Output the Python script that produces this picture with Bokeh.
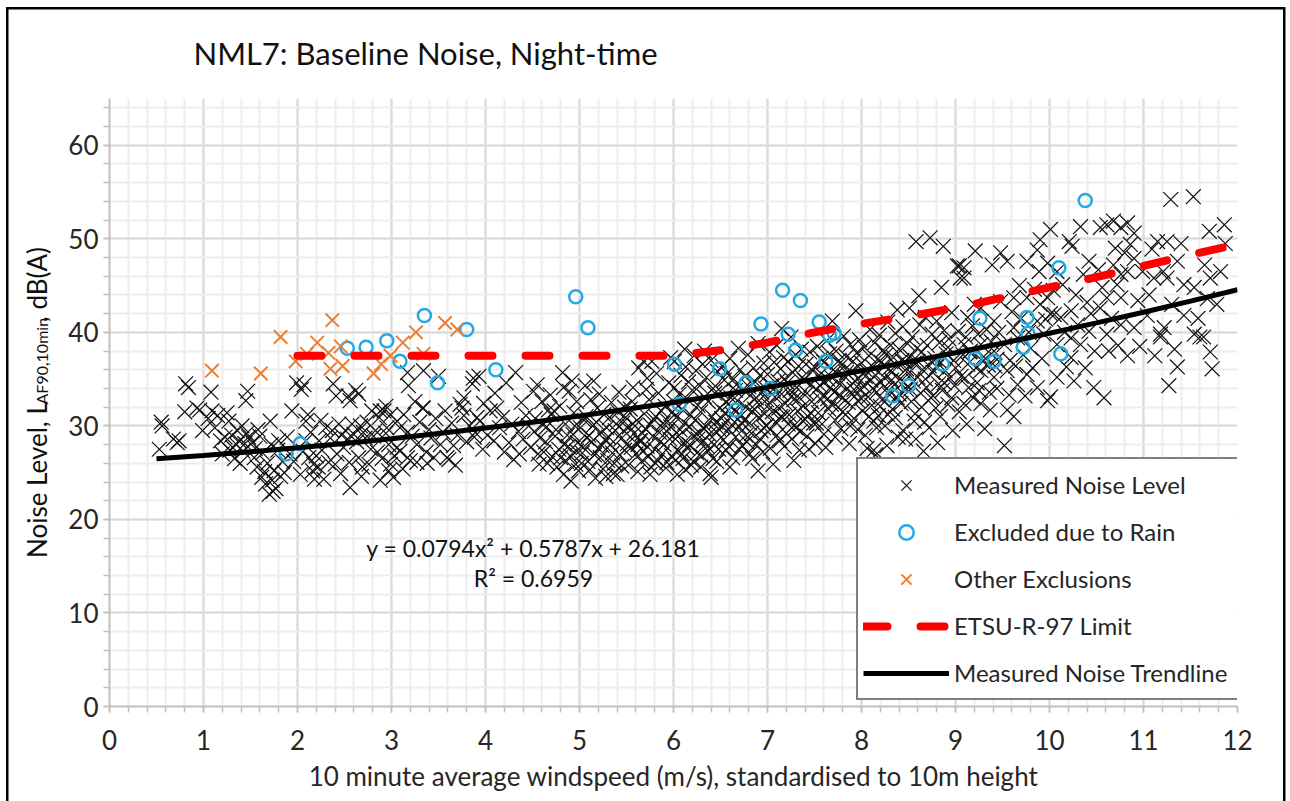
import math
from bokeh.plotting import figure
from bokeh.models import SingleIntervalTicker, Label, Title
from bokeh.embed import file_html
from bokeh.resources import INLINE

FONT = "Lato"
TXT = "#262626"

# ---------------- data ----------------
measured_points = [
    # 0.5 - 1.0
    (0.53, 27.5), (0.56, 30.0), (0.55, 30.4), (0.72, 28.2), (0.74, 28.4), (0.80, 31.5), (0.84, 34.1),
    (0.81, 34.5), (0.93, 31.9), (0.96, 31.7), (0.99, 29.5), (0.68, 28.6),
    # 1.0 - 1.5
    (1.05, 30.8), (1.08, 33.6), (1.09, 31.6), (1.12, 29.8), (1.15, 31.1), (1.18, 28.4), (1.20, 27.0),
    (1.23, 28.8), (1.25, 31.4), (1.27, 30.5), (1.30, 29.0), (1.31, 27.7), (1.33, 26.5), (1.36, 29.5),
    (1.38, 28.4), (1.39, 26.0), (1.41, 30.0), (1.42, 27.3), (1.44, 28.1), (1.45, 32.7), (1.46, 29.2),
    (1.47, 33.7), (1.48, 28.8), (1.35, 28.0), (1.28, 27.4),
    # 1.5 - 2.0
    (1.52, 28.2), (1.54, 26.6), (1.55, 27.6), (1.57, 25.6), (1.58, 29.6), (1.60, 28.9), (1.62, 24.5),
    (1.63, 27.1), (1.65, 25.1), (1.66, 23.8), (1.68, 26.0), (1.70, 22.7), (1.71, 30.5), (1.72, 28.0),
    (1.73, 24.2), (1.75, 25.2), (1.77, 23.3), (1.79, 27.4), (1.80, 28.4), (1.84, 26.2), (1.86, 25.0),
    (1.89, 28.8), (1.92, 27.0), (1.94, 31.6), (1.96, 26.2), (1.99, 34.6), (1.74, 23.0), (1.82, 24.6),
    # 2.0 - 2.5
    (2.03, 24.8), (2.04, 33.9), (2.06, 27.3), (2.07, 34.4), (2.09, 30.5), (2.09, 28.4), (2.12, 26.6),
    (2.14, 29.3), (2.16, 25.2), (2.17, 25.9), (2.18, 24.3), (2.20, 26.8), (2.23, 28.4), (2.25, 30.6),
    (2.26, 27.4), (2.28, 24.3), (2.30, 29.8), (2.33, 26.1), (2.35, 28.7), (2.37, 29.5), (2.38, 34.5),
    (2.40, 25.9), (2.41, 33.2), (2.42, 27.0), (2.44, 30.2), (2.46, 24.9), (2.47, 29.0), (2.49, 27.7),
    (2.11, 31.2), (2.22, 25.6),
    # 2.5 - 3.0
    (2.51, 29.5), (2.53, 28.6), (2.54, 33.2), (2.55, 26.1), (2.56, 23.4), (2.56, 32.7), (2.58, 30.2),
    (2.60, 29.1), (2.62, 33.8), (2.63, 28.3), (2.65, 33.4), (2.65, 26.6), (2.67, 30.0), (2.68, 24.6),
    (2.69, 25.6), (2.70, 29.3), (2.72, 28.7), (2.74, 30.4), (2.76, 25.9), (2.78, 27.5), (2.79, 31.6),
    (2.81, 28.9), (2.83, 29.5), (2.85, 27.2), (2.87, 30.9), (2.88, 24.2), (2.88, 31.6), (2.90, 26.5),
    (2.92, 31.6), (2.94, 29.2), (2.94, 32.1), (2.95, 29.8), (2.97, 25.2), (2.97, 28.0), (2.99, 31.2),
    (2.99, 25.9),
    # 3.0 - 3.5
    (3.02, 24.5), (3.06, 30.5), (3.06, 27.7), (3.09, 27.3), (3.09, 29.8), (3.13, 31.2), (3.17, 35.7),
    (3.17, 29.3), (3.17, 26.6), (3.18, 34.3), (3.20, 26.3), (3.22, 28.9), (3.27, 26.1), (3.27, 28.0),
    (3.30, 30.4), (3.33, 31.9), (3.34, 35.9), (3.34, 31.9), (3.37, 27.2), (3.40, 29.6), (3.42, 28.7),
    (3.45, 26.6), (3.47, 30.8), (3.50, 35.3), (3.03, 26.8), (3.12, 25.4), (3.25, 32.6), (3.38, 26.0),
    # 3.5 - 4.0
    (3.52, 28.0), (3.55, 29.3), (3.59, 26.6), (3.61, 26.4), (3.64, 30.3), (3.66, 27.9), (3.70, 29.0),
    (3.73, 32.3), (3.75, 31.9), (3.77, 31.1), (3.77, 33.0), (3.80, 28.3), (3.83, 30.0), (3.86, 34.5),
    (3.87, 35.1), (3.88, 28.8), (3.89, 29.3), (3.91, 30.9), (3.93, 35.3), (3.94, 30.5), (3.97, 27.5),
    (3.57, 31.6), (3.68, 25.8), (3.98, 32.4),
    # 4.0 - 4.5
    (4.02, 29.0), (4.05, 31.6), (4.09, 28.4), (4.12, 31.9), (4.15, 29.8), (4.18, 30.9), (4.20, 27.2),
    (4.25, 28.2), (4.28, 30.2), (4.32, 35.7), (4.35, 29.4), (4.38, 32.5), (4.40, 28.6), (4.43, 31.1),
    (4.46, 30.0), (4.48, 27.7), (4.10, 33.5), (4.22, 34.6), (4.30, 26.4), (4.36, 27.0),
    # 4.5 - 5.0
    (4.51, 33.7), (4.53, 30.8), (4.55, 34.4), (4.57, 25.9), (4.58, 28.7), (4.60, 32.6), (4.62, 27.2),
    (4.65, 29.9), (4.69, 33.3), (4.70, 31.2), (4.73, 31.6), (4.74, 28.9), (4.76, 25.6), (4.78, 27.5),
    (4.80, 26.6), (4.82, 35.7), (4.83, 34.1), (4.83, 24.8), (4.85, 30.2), (4.87, 29.0), (4.89, 33.7),
    (4.90, 26.8), (4.91, 24.1), (4.92, 34.8), (4.94, 31.4), (4.96, 25.9), (4.97, 32.6), (4.98, 28.2),
    (4.99, 25.2), (4.66, 26.0), (4.88, 27.8), (4.95, 30.0),
    (4.52, 29.4), (4.56, 27.0), (4.61, 30.1), (4.64, 28.3), (4.67, 31.7), (4.71, 26.7), (4.75, 29.6),
    (4.79, 32.1), (4.84, 28.0), (4.86, 26.2), (4.93, 29.1), (4.97, 27.3),
    # 5.0 - 5.5
    (5.01, 29.8), (5.03, 27.1), (5.04, 27.7), (5.06, 34.3), (5.07, 31.0), (5.09, 26.2), (5.10, 29.0),
    (5.12, 32.8), (5.13, 28.3), (5.15, 34.8), (5.16, 26.9), (5.18, 30.4), (5.19, 31.9), (5.20, 27.6),
    (5.22, 26.6), (5.23, 29.3), (5.25, 25.4), (5.26, 31.2), (5.27, 28.5), (5.29, 29.8), (5.30, 26.3),
    (5.32, 30.9), (5.33, 28.0), (5.35, 27.1), (5.36, 24.9), (5.38, 29.5), (5.40, 24.8), (5.41, 31.5),
    (5.43, 26.9), (5.44, 28.6), (5.46, 30.3), (5.47, 29.5), (5.48, 27.4), (5.49, 30.9), (5.11, 25.3),
    (5.21, 33.4), (5.34, 32.5), (5.05, 30.6), (5.28, 24.6), (5.42, 33.6),
    (5.02, 26.0), (5.08, 28.7), (5.14, 30.0), (5.17, 24.4), (5.24, 27.9), (5.31, 28.8), (5.37, 26.0),
    (5.39, 30.2), (5.45, 25.7), (5.48, 32.0),
    # 5.5 - 6.0
    (5.51, 28.1), (5.52, 25.8), (5.54, 31.8), (5.56, 32.6), (5.57, 34.1), (5.58, 29.2), (5.60, 27.0),
    (5.61, 30.6), (5.63, 36.2), (5.64, 28.4), (5.65, 28.4), (5.66, 26.2), (5.68, 36.9), (5.68, 27.3),
    (5.69, 31.3), (5.70, 29.7), (5.72, 35.1), (5.73, 26.7), (5.74, 32.8), (5.75, 30.1), (5.76, 25.6),
    (5.77, 36.9), (5.78, 28.9), (5.80, 27.5), (5.81, 31.0), (5.83, 26.3), (5.84, 33.5), (5.85, 29.3),
    (5.87, 31.6), (5.88, 27.0), (5.90, 28.0), (5.91, 32.1), (5.92, 25.5), (5.94, 30.5), (5.95, 34.6),
    (5.96, 28.6), (5.98, 26.8), (5.99, 31.5), (5.53, 29.9), (5.62, 25.1), (5.71, 33.9), (5.82, 35.6),
    (5.93, 29.4), (5.97, 37.3),
    (5.55, 27.7), (5.59, 30.0), (5.62, 28.0), (5.67, 29.2), (5.72, 27.8), (5.75, 24.8), (5.79, 30.7),
    (5.81, 26.0), (5.86, 28.3), (5.89, 30.3), (5.93, 26.1), (5.97, 29.9),
    # 6.0 - 6.5
    (6.00, 32.6), (6.01, 34.1), (6.01, 36.9), (6.02, 28.6), (6.03, 30.9), (6.04, 24.8), (6.05, 27.3),
    (6.06, 33.4), (6.07, 29.6), (6.08, 35.4), (6.09, 31.8), (6.10, 26.5), (6.11, 28.2), (6.12, 30.3),
    (6.13, 36.3), (6.14, 32.9), (6.15, 27.6), (6.16, 34.7), (6.17, 29.9), (6.18, 31.2), (6.19, 25.8),
    (6.20, 33.8), (6.21, 28.9), (6.22, 37.5), (6.23, 30.6), (6.24, 35.9), (6.25, 27.1), (6.26, 32.2),
    (6.27, 29.3), (6.28, 34.3), (6.29, 31.5), (6.30, 26.8), (6.31, 36.6), (6.32, 28.4), (6.33, 33.1),
    (6.34, 30.0), (6.35, 35.2), (6.36, 27.8), (6.37, 32.6), (6.38, 29.1), (6.39, 24.9), (6.40, 37.0),
    (6.41, 31.0), (6.42, 34.0), (6.43, 28.0), (6.44, 33.5), (6.45, 30.4), (6.46, 26.2), (6.47, 35.8),
    (6.48, 29.7), (6.49, 31.9), (6.40, 24.5), (6.12, 38.2), (6.33, 38.0),
    (6.02, 26.3), (6.06, 29.0), (6.09, 27.0), (6.13, 25.3), (6.17, 28.0), (6.21, 26.2), (6.26, 28.6),
    (6.29, 25.6), (6.33, 29.7), (6.37, 27.3), (6.42, 26.5), (6.46, 29.3), (6.48, 27.5),
    # 6.5 - 7.0
    (6.50, 33.7), (6.51, 30.8), (6.52, 36.4), (6.53, 28.5), (6.54, 34.9), (6.55, 31.4), (6.56, 27.4),
    (6.57, 35.6), (6.58, 32.3), (6.59, 29.6), (6.60, 37.2), (6.61, 33.0), (6.62, 30.1), (6.63, 26.6),
    (6.64, 35.0), (6.65, 31.7), (6.66, 28.8), (6.67, 34.4), (6.68, 32.7), (6.69, 38.3), (6.70, 29.9),
    (6.71, 36.0), (6.72, 31.1), (6.73, 27.9), (6.74, 33.9), (6.75, 30.6), (6.76, 35.3), (6.77, 32.0),
    (6.78, 28.3), (6.79, 37.6), (6.80, 34.2), (6.81, 30.3), (6.82, 33.3), (6.83, 29.2), (6.84, 26.5),
    (6.85, 36.2), (6.86, 31.8), (6.87, 34.7), (6.88, 28.0), (6.89, 32.5), (6.90, 38.8), (6.91, 30.9),
    (6.92, 35.4), (6.93, 29.5), (6.94, 33.6), (6.95, 27.2), (6.96, 36.7), (6.97, 31.3), (6.98, 34.0),
    (6.99, 30.0), (6.60, 25.6), (6.90, 25.2),
    (6.52, 29.9), (6.56, 32.6), (6.59, 27.8), (6.63, 31.2), (6.66, 33.8), (6.70, 27.5), (6.73, 30.3),
    (6.77, 29.0), (6.81, 27.0), (6.84, 31.5), (6.88, 33.0), (6.92, 28.6), (6.96, 29.8), (6.99, 32.8),
    # 7.0 - 7.5
    (7.00, 35.5), (7.01, 32.2), (7.02, 37.9), (7.03, 29.6), (7.04, 34.3), (7.05, 31.5), (7.06, 25.9),
    (7.07, 36.8), (7.08, 33.1), (7.09, 30.4), (7.10, 38.6), (7.11, 34.8), (7.12, 31.9), (7.13, 28.4),
    (7.14, 36.1), (7.15, 33.4), (7.16, 30.9), (7.17, 37.3), (7.18, 35.0), (7.19, 32.4), (7.20, 29.2),
    (7.21, 34.6), (7.22, 36.9), (7.23, 31.2), (7.24, 33.8), (7.25, 39.5), (7.26, 28.6), (7.27, 35.7),
    (7.28, 32.8), (7.29, 30.1), (7.30, 37.6), (7.31, 34.1), (7.32, 31.6), (7.33, 36.4), (7.34, 33.0),
    (7.35, 29.4), (7.36, 38.2), (7.37, 35.2), (7.38, 32.1), (7.39, 34.9), (7.40, 30.7), (7.41, 36.6),
    (7.42, 33.5), (7.43, 31.0), (7.44, 27.5), (7.45, 37.9), (7.46, 34.4), (7.47, 32.6), (7.48, 35.9),
    (7.49, 30.3), (7.28, 26.3), (7.15, 40.4),
    (7.03, 27.6), (7.06, 33.9), (7.10, 29.0), (7.14, 31.0), (7.18, 27.8), (7.22, 30.2), (7.26, 33.2),
    (7.30, 29.8), (7.34, 27.4), (7.38, 30.5), (7.42, 28.9), (7.46, 31.4),
    # 7.5 - 8.0
    (7.50, 36.3), (7.51, 28.1), (7.52, 33.9), (7.53, 38.5), (7.54, 31.4), (7.55, 35.4), (7.56, 32.9),
    (7.57, 37.2), (7.58, 30.2), (7.59, 34.7), (7.60, 36.8), (7.61, 33.2), (7.62, 27.7), (7.63, 39.1),
    (7.64, 35.0), (7.65, 31.8), (7.66, 37.7), (7.67, 34.1), (7.68, 32.3), (7.69, 41.2), (7.70, 36.0),
    (7.71, 33.6), (7.72, 30.6), (7.73, 38.0), (7.74, 35.6), (7.75, 32.0), (7.76, 37.0), (7.77, 34.5),
    (7.78, 29.7), (7.79, 36.5), (7.80, 33.0), (7.81, 39.6), (7.82, 35.3), (7.83, 31.2), (7.84, 37.4),
    (7.85, 34.0), (7.86, 32.5), (7.87, 28.1), (7.88, 38.7), (7.89, 35.8), (7.90, 33.4), (7.91, 36.9),
    (7.92, 30.8), (7.93, 34.8), (7.94, 42.3), (7.95, 37.8), (7.96, 32.7), (7.97, 35.1), (7.98, 39.2),
    (7.99, 33.8),
    (7.52, 30.3), (7.56, 34.3), (7.60, 29.1), (7.64, 32.9), (7.68, 35.2), (7.72, 28.8), (7.76, 33.3),
    (7.80, 31.5), (7.84, 35.7), (7.88, 30.0), (7.92, 33.9), (7.96, 29.6),
    # 8.0 - 8.5
    (8.00, 36.7), (8.01, 31.6), (8.02, 34.3), (8.03, 38.4), (8.04, 29.0), (8.05, 35.9), (8.06, 27.6),
    (8.07, 33.1), (8.08, 37.5), (8.09, 40.3), (8.10, 34.9), (8.11, 32.2), (8.12, 36.3), (8.13, 30.5),
    (8.14, 38.9), (8.15, 35.4), (8.16, 33.6), (8.17, 37.1), (8.18, 31.1), (8.19, 39.7), (8.20, 34.6),
    (8.21, 36.8), (8.22, 32.8), (8.23, 38.1), (8.24, 35.2), (8.25, 30.0), (8.26, 37.6), (8.27, 34.0),
    (8.28, 41.1), (8.29, 36.1), (8.30, 33.3), (8.31, 38.6), (8.32, 35.7), (8.33, 31.8), (8.34, 37.3),
    (8.35, 34.4), (8.36, 39.9), (8.37, 36.5), (8.38, 33.0), (8.39, 28.8), (8.40, 38.2), (8.41, 35.0),
    (8.42, 32.4), (8.43, 37.0), (8.44, 40.6), (8.45, 34.7), (8.46, 36.9), (8.47, 28.6), (8.48, 33.9),
    (8.49, 38.8), (8.38, 42.4), (8.15, 26.9),
    (8.00, 32.9), (8.04, 35.3), (8.08, 31.0), (8.12, 34.0), (8.16, 29.8), (8.20, 32.1), (8.24, 36.5),
    (8.28, 31.2), (8.32, 34.9), (8.36, 30.9), (8.40, 33.4), (8.44, 29.5), (8.48, 36.1), (8.13, 27.4),
    (8.27, 27.9),
    # 8.5 - 9.0
    (8.50, 35.6), (8.51, 42.6), (8.52, 37.4), (8.53, 32.6), (8.54, 39.5), (8.55, 34.8), (8.56, 36.7),
    (8.57, 31.3), (8.58, 49.7), (8.59, 38.3), (8.60, 35.2), (8.62, 40.8), (8.63, 33.5), (8.64, 37.9),
    (8.65, 36.0), (8.67, 30.4), (8.68, 41.6), (8.69, 34.1), (8.70, 38.6), (8.72, 36.4), (8.73, 50.1),
    (8.74, 33.0), (8.75, 39.8), (8.76, 35.7), (8.78, 37.2), (8.79, 31.9), (8.80, 41.2), (8.82, 34.5),
    (8.83, 38.9), (8.84, 36.8), (8.86, 33.8), (8.87, 49.2), (8.88, 40.2), (8.89, 35.9), (8.90, 37.7),
    (8.92, 32.3), (8.93, 39.3), (8.94, 35.1), (8.96, 42.1), (8.97, 29.5), (8.98, 37.0), (8.99, 34.3),
    (8.61, 43.9), (8.85, 44.8),
    (8.52, 33.9), (8.56, 30.5), (8.60, 36.9), (8.64, 32.0), (8.68, 35.0), (8.72, 29.8), (8.76, 33.2),
    (8.80, 36.3), (8.84, 31.0), (8.88, 34.6), (8.92, 38.4), (8.96, 33.0), (8.66, 27.3), (8.58, 28.6),
    (8.81, 28.2),
    # 9.0 - 9.5
    (9.02, 47.1), (9.04, 47.1), (9.05, 45.8), (9.09, 46.9), (9.09, 45.8), (9.09, 38.7), (9.09, 32.4),
    (9.13, 41.6), (9.13, 36.6), (9.16, 38.0), (9.20, 43.0), (9.21, 48.7), (9.27, 42.6), (9.27, 38.7),
    (9.27, 35.9), (9.27, 32.4), (9.37, 31.7), (9.39, 47.2), (9.41, 41.2), (9.41, 38.0), (9.41, 35.2),
    (9.48, 48.5), (9.48, 43.3), (9.03, 40.1), (9.06, 35.3), (9.08, 37.6), (9.11, 39.5), (9.14, 34.1),
    (9.18, 40.7), (9.22, 36.2), (9.24, 39.8), (9.30, 37.4), (9.33, 40.3), (9.35, 36.5), (9.38, 39.0),
    (9.44, 37.1), (9.46, 40.0), (9.12, 30.2), (9.25, 33.8), (9.44, 34.0), (9.31, 29.7), (9.19, 33.0),
    (9.00, 36.2), (9.04, 31.5), (9.10, 35.1), (9.15, 37.9), (9.23, 34.6), (9.29, 36.9), (9.36, 33.6),
    (9.42, 36.4),
    # 9.5 - 10.0
    (9.52, 38.7), (9.52, 27.9), (9.55, 47.6), (9.55, 35.9), (9.55, 31.7), (9.62, 43.7), (9.62, 40.5),
    (9.62, 31.0), (9.66, 39.4), (9.66, 34.4), (9.76, 47.6), (9.76, 43.7), (9.76, 35.5), (9.80, 38.3),
    (9.87, 48.8), (9.87, 41.2), (9.87, 34.1), (9.89, 46.5), (9.90, 49.9), (9.90, 43.0), (9.94, 39.8),
    (9.98, 47.4), (9.98, 43.7), (9.98, 32.7), (9.58, 37.0), (9.60, 42.2), (9.64, 36.4), (9.70, 41.5),
    (9.72, 37.6), (9.74, 33.2), (9.78, 40.0), (9.82, 36.2), (9.84, 44.6), (9.92, 37.2), (9.96, 41.4),
    (9.68, 45.0), (9.57, 33.3),
    # 10.0 - 10.5
    (10.01, 51.0), (10.01, 42.0), (10.01, 33.1), (10.05, 41.9), (10.08, 46.5), (10.08, 38.7), (10.08, 35.2),
    (10.12, 41.6), (10.21, 49.7), (10.23, 42.3), (10.23, 39.4), (10.23, 37.3), (10.24, 49.2), (10.26, 34.8),
    (10.33, 51.3), (10.33, 38.7), (10.40, 43.2), (10.42, 47.6), (10.42, 40.1), (10.47, 34.1), (10.04, 44.5),
    (10.14, 45.1), (10.18, 36.3), (10.28, 44.0), (10.30, 40.8), (10.36, 46.2), (10.44, 42.0), (10.48, 38.0),
    (10.16, 40.0), (10.38, 36.2),
    # 10.5 - 11.0
    (10.52, 46.7), (10.54, 51.2), (10.54, 42.6), (10.58, 33.0), (10.61, 51.5), (10.61, 43.7), (10.61, 39.8),
    (10.63, 38.0), (10.68, 51.9), (10.68, 47.2), (10.72, 45.1), (10.76, 51.2), (10.76, 46.2), (10.76, 43.7),
    (10.76, 40.8), (10.83, 51.7), (10.83, 46.5), (10.83, 37.5), (10.86, 49.4), (10.90, 50.6), (10.90, 47.9),
    (10.90, 40.5), (10.99, 46.5), (10.56, 44.8), (10.66, 41.5), (10.70, 49.0), (10.80, 48.5), (10.94, 43.4),
    (10.96, 38.5), (10.73, 38.6),
    # 11.0 - 11.5
    (11.04, 41.8), (11.09, 48.9), (11.11, 45.8), (11.15, 49.7), (11.18, 39.5), (11.18, 39.8), (11.21, 46.5),
    (11.22, 40.5), (11.25, 49.7), (11.25, 45.8), (11.27, 34.3), (11.29, 54.2), (11.36, 47.6), (11.36, 36.3),
    (11.43, 45.1), (11.43, 41.8), (11.06, 44.0), (11.30, 43.0), (11.40, 49.5), (11.12, 37.5), (11.33, 38.2),
    # 11.5 - 12.0
    (11.53, 54.5), (11.54, 44.8), (11.54, 39.8), (11.60, 39.5), (11.64, 39.5), (11.68, 43.6), (11.70, 50.8),
    (11.71, 45.8), (11.71, 37.9), (11.73, 36.1), (11.82, 46.5), (11.86, 51.5), (11.87, 49.5), (11.58, 41.5),
    (11.78, 43.0), (11.65, 47.2),
]

rain_points = [
    (1.88, 27.0), (2.03, 28.1), (2.53, 38.3), (2.73, 38.4), (2.95, 39.1), (3.09, 36.9), (3.35, 41.8),
    (3.49, 34.6), (3.80, 40.3), (4.11, 36.0), (4.96, 43.8), (5.09, 40.5), (6.01, 36.6), (6.06, 32.3),
    (6.49, 36.1), (6.66, 31.7), (6.77, 34.6), (6.93, 40.9), (7.03, 34.0), (7.16, 44.5), (7.22, 39.8),
    (7.35, 43.4), (7.30, 38.1), (7.55, 41.1), (7.62, 36.9), (7.66, 39.7), (7.71, 39.9), (8.33, 33.2),
    (8.50, 34.3), (8.86, 36.6), (9.21, 37.2), (9.26, 41.5), (9.41, 36.9), (9.72, 38.4), (9.76, 41.6),
    (9.77, 39.9), (10.10, 46.9), (10.12, 37.7), (10.38, 54.1),
]

other_points = [
    (1.09, 35.9), (1.61, 35.6), (1.82, 39.5), (1.98, 36.9), (2.10, 37.7), (2.21, 38.9), (2.33, 37.8),
    (2.35, 36.1), (2.37, 41.3), (2.46, 38.5), (2.48, 36.4), (2.81, 35.6), (2.89, 36.6), (2.99, 37.5),
    (3.12, 38.9), (3.26, 40.0), (3.34, 37.7), (3.57, 41.0), (3.70, 40.3),
]

etsu_wind = [2, 3, 4, 5, 6, 6.5, 7, 7.5, 8, 8.5, 9, 9.5, 10, 10.5, 11, 11.5, 12]
etsu_limit = [37.5, 37.5, 37.5, 37.5, 37.5, 38.1, 38.9, 40.0, 40.9, 41.7, 42.6, 43.7, 44.8, 45.9, 47.1, 48.3, 49.4]

trend_wind = [0.5, 1, 1.5, 2, 2.5, 3, 3.5, 4, 4.5, 5, 5.5, 6, 6.5, 7, 7.5, 8, 8.5, 9, 9.5, 10, 10.5, 11, 11.5, 12]
trend_level = [26.49, 26.84, 27.23, 27.66, 28.12, 28.63, 29.18, 29.77, 30.39, 31.06, 31.77, 32.51, 33.30,
               34.12, 34.99, 35.89, 36.84, 37.82, 38.84, 39.91, 41.01, 42.15, 43.34, 44.56]

x_axis_label = "10 minute average windspeed (m/s), standardised to 10m height"
title_text = "NML7: Baseline Noise, Night-time"
y_label_main = "Noise Level, L"
y_label_sub = "AF90,10min"
y_label_tail = ", dB(A)"
equation_text = "y = 0.0794x\u00b2 + 0.5787x + 26.181"
r2_text = "R\u00b2 = 0.6959"

measured_wind = [pt[0] for pt in measured_points]
measured_level = [pt[1] for pt in measured_points]
rain_wind = [pt[0] for pt in rain_points]
rain_level = [pt[1] for pt in rain_points]
other_wind = [pt[0] for pt in other_points]
other_level = [pt[1] for pt in other_points]

# outer chart border drawn with CSS (left, top, right edges)
border_css = ("linear-gradient(#000,#000) 6px 7px / 2.5px 1000px no-repeat, "
              "linear-gradient(#000,#000) 6px 7px / 1279px 2.5px no-repeat, "
              "linear-gradient(#000,#000) 1283px 7px / 2.5px 1000px no-repeat, #ffffff")

# ---------------- figure ----------------
p = figure(width=1290, height=801, x_range=(0, 12), y_range=(0, 65),
           output_backend="svg", toolbar_location=None,
           min_border_left=109, min_border_right=53, min_border_top=98, min_border_bottom=95,
           outline_line_color=None, background_fill_color="white",
           border_fill_color="white", border_fill_alpha=0.0,
           styles={"background": border_css})

p.title.text = title_text
p.title.align = "left"
p.title.offset = 84
p.title.standoff = 54
p.title.text_font = FONT
p.title.text_font_size = "31px"
p.title.text_font_style = "normal"
p.title.text_color = "#111111"

p.xaxis.ticker = SingleIntervalTicker(interval=1, num_minor_ticks=5)
p.yaxis.ticker = SingleIntervalTicker(interval=10, num_minor_ticks=5)

for ax in (p.xaxis[0], p.yaxis[0]):
    ax.axis_line_color = "#bfbfbf"
    ax.axis_line_width = 2
    ax.major_tick_line_color = "#bfbfbf"
    ax.minor_tick_line_color = "#bfbfbf"
    ax.major_tick_line_width = 1.5
    ax.minor_tick_line_width = 1.5
    ax.major_tick_in = 0
    ax.minor_tick_in = 0
    ax.major_tick_out = 6
    ax.minor_tick_out = 6
    ax.major_label_text_font = FONT
    ax.major_label_text_font_size = "26px"
    ax.major_label_text_color = TXT

p.xaxis.major_label_standoff = 17
p.yaxis.major_label_standoff = 5
p.xaxis.axis_label = x_axis_label
p.xaxis.axis_label_text_font = FONT
p.xaxis.axis_label_text_font_size = "26px"
p.xaxis.axis_label_text_font_style = "normal"
p.xaxis.axis_label_text_color = TXT
p.xaxis.axis_label_standoff = 7

# y axis label: main text with a gap where the subscript sits
p.yaxis.axis_label = y_label_main + "\u00a0" * 12 + y_label_tail
p.yaxis.axis_label_text_font = FONT
p.yaxis.axis_label_text_font_size = "26px"
p.yaxis.axis_label_text_font_style = "normal"
p.yaxis.axis_label_text_color = "#111111"
p.yaxis.axis_label_standoff = 12

sub = Title(text=y_label_sub, align="left", offset=302, standoff=-64, vertical_align="bottom",
            text_font=FONT, text_font_size="16px", text_font_style="normal", text_color="#111111")
p.add_layout(sub, "left")

p.xgrid.grid_line_color = "#d9d9d9"
p.ygrid.grid_line_color = "#d9d9d9"
p.xgrid.grid_line_width = 2
p.ygrid.grid_line_width = 2
p.xgrid.minor_grid_line_color = "#ededed"
p.ygrid.minor_grid_line_color = "#ededed"
p.xgrid.minor_grid_line_width = 2
p.ygrid.minor_grid_line_width = 2

p.scatter(measured_wind, measured_level, marker="x", size=21, line_color="#111111",
          line_width=1.2, legend_label="Measured Noise Level")
p.scatter(rain_wind, rain_level, marker="circle", size=13, fill_color=None,
          line_color="#22AAE2", line_width=2.5, legend_label="Excluded due to Rain")
p.scatter(other_wind, other_level, marker="x", size=19, line_color="#ED7D31",
          line_width=2, legend_label="Other Exclusions")
p.line(etsu_wind, etsu_limit, line_color="#FF0000", line_width=8, line_dash="24 33",
       line_cap="round", legend_label="ETSU-R-97 Limit")
p.line(trend_wind, trend_level, line_color="#000000", line_width=5,
       legend_label="Measured Noise Trendline")

lg = p.legend[0]
lg.location = (747, 6)
lg.border_line_color = "black"
lg.border_line_width = 2
lg.background_fill_color = "white"
lg.background_fill_alpha = 1
lg.label_text_font = FONT
lg.label_text_font_size = "24px"
lg.label_text_color = TXT
lg.glyph_width = 86
lg.glyph_height = 36
lg.label_height = 41
lg.label_width = 280
lg.label_standoff = 5
lg.spacing = 6
lg.padding = 5
lg.margin = 0

# trendline equation
p.add_layout(Label(x=4.51, y=16.9, text=equation_text, text_font=FONT, text_font_size="23px",
                   text_color="#111111", text_baseline="middle", text_align="center"))
p.add_layout(Label(x=4.51, y=13.7, text=r2_text, text_font=FONT, text_font_size="23px",
                   text_color="#111111", text_baseline="middle", text_align="center"))

open("out.html", "w").write(file_html(p, INLINE))
